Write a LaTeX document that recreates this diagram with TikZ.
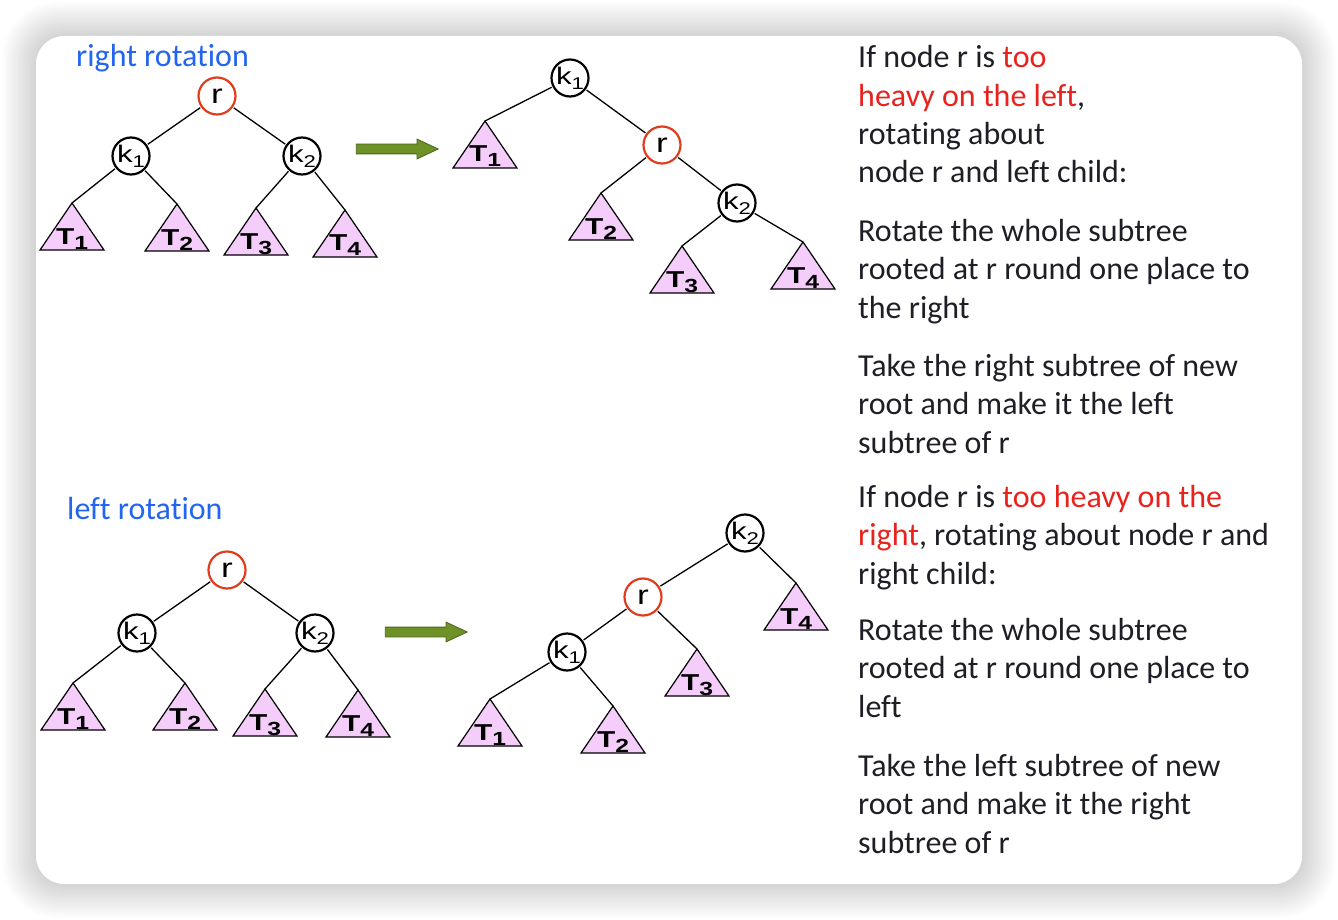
\documentclass[tikz,border=0pt]{standalone}
\usepackage{fontspec}
\setmainfont{Carlito}[Ligatures=NoCommon]
\newfontfamily\arialw{Liberation Sans}[FakeStretch=1.3]
\usepackage{xcolor}
\usepackage{tikz}
\usetikzlibrary{calc,positioning,shapes.arrows}

\definecolor{hiblue}{RGB}{35,100,240}
\definecolor{hired}{RGB}{232,35,30}
\definecolor{rootred}{RGB}{222,62,30}
\definecolor{trifill}{RGB}{245,205,250}
\definecolor{arrgreen}{RGB}{110,145,40}
\definecolor{txtgray}{RGB}{30,30,38}
\newcommand{\hl}[1]{\textcolor{hired}{#1}}
\newcommand{\ksub}[1]{k\raisebox{-5pt}{\fontsize{17}{17}\selectfont #1}}
% subtree triangle: name, apex x, apex y, index
\newcommand{\subtri}[4]{%
  \coordinate (#1) at (#2,#3);
  \draw[tri] (#1) -- ++(-32,47) -- ++(64,0) -- cycle;
  \node[trilab] (#1t) at ([yshift=-41pt]#1) {T\raisebox{-5pt}{\fontsize{19}{19}\selectfont #4}};
}

\begin{document}
\begin{tikzpicture}[x=1pt,y=-1pt,
  bnode/.style={circle,draw=black,line width=2.2pt,fill=white,minimum size=37pt,inner sep=0pt,outer sep=2pt,font=\arialw\fontsize{24}{24}\selectfont},
  rnode/.style={bnode,draw=rootred,font=\arialw\fontsize{27}{27}\selectfont},
  tri/.style={draw=black,line width=1.2pt,fill=trifill,line join=miter},
  trilab/.style={anchor=base,inner sep=0pt,font=\arialw\bfseries\fontsize{23}{23}\selectfont},
  edge/.style={line width=1.3pt},
  bigarrow/.style={single arrow,draw=arrgreen!70!black,fill=arrgreen,line width=0.8pt,inner sep=4.5pt,single arrow head extend=5pt,single arrow tip angle=50,minimum height=82pt},
  head/.style={anchor=base west,inner sep=0pt,text=hiblue,font=\fontsize{32}{38.5}\selectfont},
  txt/.style={anchor=base west,align=left,inner sep=0pt,text=txtgray,font=\fontsize{32}{38.5}\selectfont}]
  \useasboundingbox (0,0) rectangle (1338,920);
  % card with soft shadow
  \foreach \i in {1,...,14}
    \fill[black,opacity=0.01,rounded corners={28pt+\i*2pt}] (36-\i*2.4,36-\i*2.4) rectangle (1302+\i*2.4,884+\i*2.4);
  \fill[white,rounded corners=28pt] (36,36) rectangle (1302,884);

  % right rotation, before
  \node[head] (rtitle) at (76,67) {right rotation};
  \node[rnode] (Ar) at (217,96) {r};
  \node[bnode] (Ak1) at (131,156) {\ksub{1}};
  \node[bnode] (Ak2) at (302,156) {\ksub{2}};
  \subtri{AT1}{72}{203}{1}
  \subtri{AT2}{177}{204}{2}
  \subtri{AT3}{256}{208}{3}
  \subtri{AT4}{345}{210}{4}
  \draw[edge] (Ar) -- (Ak1) (Ar) -- (Ak2) (Ak1) -- (AT1) (Ak1) -- (AT2) (Ak2) -- (AT3) (Ak2) -- (AT4);
  \node[bigarrow] (Aarr) at (392,149) {};

  % right rotation, after
  \node[bnode] (Bk1) at (570,78) {\ksub{1}};
  \node[rnode] (Br) at (662,145) {r};
  \node[bnode] (Bk2) at (737,203) {\ksub{2}};
  \subtri{BT1}{485}{121}{1}
  \subtri{BT2}{601}{193}{2}
  \subtri{BT3}{682}{246}{3}
  \subtri{BT4}{803}{242}{4}
  \draw[edge] (Bk1) -- (BT1) (Bk1) -- (Br) (Br) -- (BT2) (Br) -- (Bk2) (Bk2) -- (BT3) (Bk2) -- (BT4);

  % left rotation, before
  \node[head] (ltitle) at (67,519) {left rotation};
  \node[rnode] (Cr) at (227,570) {r};
  \node[bnode] (Ck1) at (137,633) {\ksub{1}};
  \node[bnode] (Ck2) at (315,633) {\ksub{2}};
  \subtri{CT1}{73}{683}{1}
  \subtri{CT2}{185}{683}{2}
  \subtri{CT3}{265}{689}{3}
  \subtri{CT4}{358}{690}{4}
  \draw[edge] (Cr) -- (Ck1) (Cr) -- (Ck2) (Ck1) -- (CT1) (Ck1) -- (CT2) (Ck2) -- (CT3) (Ck2) -- (CT4);
  \node[bigarrow] (Carr) at (421,632) {};

  % left rotation, after
  \node[bnode] (Dk2) at (745,533) {\ksub{2}};
  \node[rnode] (Dr) at (643,597) {r};
  \node[bnode] (Dk1) at (567,652) {\ksub{1}};
  \subtri{DT4}{796}{583}{4}
  \subtri{DT3}{697}{649}{3}
  \subtri{DT1}{490}{699}{1}
  \subtri{DT2}{613}{706}{2}
  \draw[edge] (Dk2) -- (Dr) (Dk2) -- (DT4) (Dr) -- (Dk1) (Dr) -- (DT3) (Dk1) -- (DT1) (Dk1) -- (DT2);

  % explanations (placed by their last line)
  \node[txt] (rtxt1) at (858,183) {If node r is \hl{too}\\\hl{heavy on the left},\\rotating about\\node r and left child:};
  \node[txt] (rtxt2) at (858,318) {Rotate the whole subtree\\rooted at r round one place to\\the right};
  \node[txt] (rtxt3) at (858,453) {Take the right subtree of new\\root and make it the left\\subtree of r};
  \node[txt] (ltxt1) at (858,584) {If node r is \hl{too heavy on the}\\\hl{right}, rotating about node r and\\right child:};
  \node[txt] (ltxt2) at (858,717) {Rotate the whole subtree\\rooted at r round one place to\\left};
  \node[txt] (ltxt3) at (858,853) {Take the left subtree of new\\root and make it the right\\subtree of r};
\end{tikzpicture}
\end{document}
